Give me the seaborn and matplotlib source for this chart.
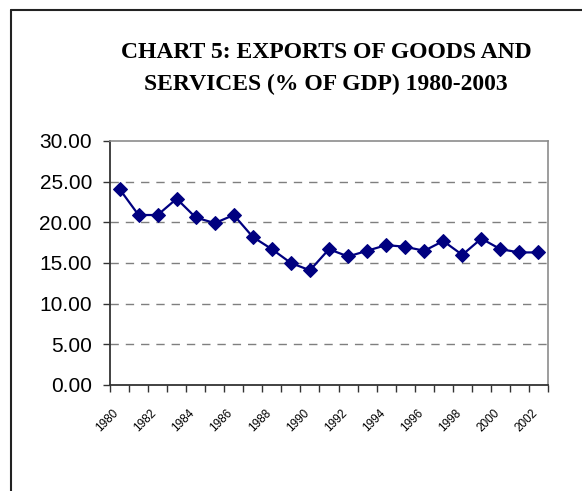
import matplotlib
matplotlib.use("Agg")
import matplotlib.pyplot as plt
import seaborn as sns
import numpy as np
import pandas as pd
from matplotlib.lines import Line2D

years = list(range(1980, 2003))
exports = [24.1, 20.9, 20.9, 22.9, 20.6, 19.9, 20.9, 18.2, 16.7, 15.0, 14.1,
           16.7, 15.8, 16.5, 17.2, 17.0, 16.5, 17.7, 16.0, 18.0, 16.7, 16.3, 16.3]
year_labels = [str(y) for y in years]
title_lines = ["CHART 5: EXPORTS OF GOODS AND", "SERVICES (% OF GDP) 1980-2003"]
y_ticks = [0, 5, 10, 15, 20, 25, 30]

sns.set_style("white")
plt.rcParams['font.family'] = ['Liberation Sans', 'DejaVu Sans']
plt.rcParams['text.color'] = 'black'
plt.rcParams['xtick.color'] = 'black'
plt.rcParams['ytick.color'] = 'black'

W, H = 582, 491
fig = plt.figure(figsize=(W / 100, H / 100), dpi=100)
ax = fig.add_axes([110 / W, 1 - 385 / H, (548 - 110) / W, (385 - 141) / H])

df = pd.DataFrame({"idx": np.arange(len(years)), "value": exports})
sns.lineplot(data=df, x="idx", y="value", ax=ax, color="#000080", linewidth=1.6,
             marker="D", markersize=6.8, markeredgecolor="#000080", markerfacecolor="#000080")

ax.set_xlim(-0.5, len(years) - 0.5)
ax.set_ylim(0, 30)
ax.set_yticks(y_ticks)
ax.set_yticklabels([f"{v:.2f}" for v in y_ticks], fontsize=15, color="black")
for v in y_ticks[1:-1]:
    ax.axhline(v, color="#7f7f7f", linestyle=(0, (6, 5)), linewidth=1.0, zorder=0)

# label anchors sit slightly left of each category centre, as in the reference
ax.set_xticks(np.arange(0, len(years), 2) - 0.37)
ax.set_xticklabels(year_labels[::2], rotation=45, ha="right", rotation_mode="anchor",
                   fontsize=8.5, color="black")
ax.set_xticks(np.arange(-0.5, len(years), 1.0), minor=True)
ax.tick_params(axis="x", which="major", length=0, pad=16)
ax.tick_params(axis="x", which="minor", length=5, width=1, color="#333333", direction="out", bottom=True)
ax.tick_params(axis="y", which="major", length=5, width=1, color="#333333", direction="out", left=True, pad=8)
ax.set_xlabel("")
ax.set_ylabel("")

for s in ["left", "bottom"]:
    ax.spines[s].set_color("#333333")
    ax.spines[s].set_linewidth(1.3)
for s in ["top", "right"]:
    ax.spines[s].set_visible(True)
    ax.spines[s].set_color("#8c8c8c")
    ax.spines[s].set_linewidth(1.2)

for line, ypx in zip(title_lines, [58, 90]):
    fig.text(326 / W, 1 - ypx / H, line, ha="center", va="baseline", fontsize=17,
             fontweight="bold", color="black", family=["Liberation Serif", "DejaVu Serif"])

fig.add_artist(Line2D([11 / W, 11 / W], [0, 1 - 10 / H], transform=fig.transFigure,
                      color="#222222", linewidth=1.5))
fig.add_artist(Line2D([11 / W, 1], [1 - 10 / H, 1 - 10 / H], transform=fig.transFigure,
                      color="#222222", linewidth=1.5))

fig.savefig("out.png", dpi=100)
